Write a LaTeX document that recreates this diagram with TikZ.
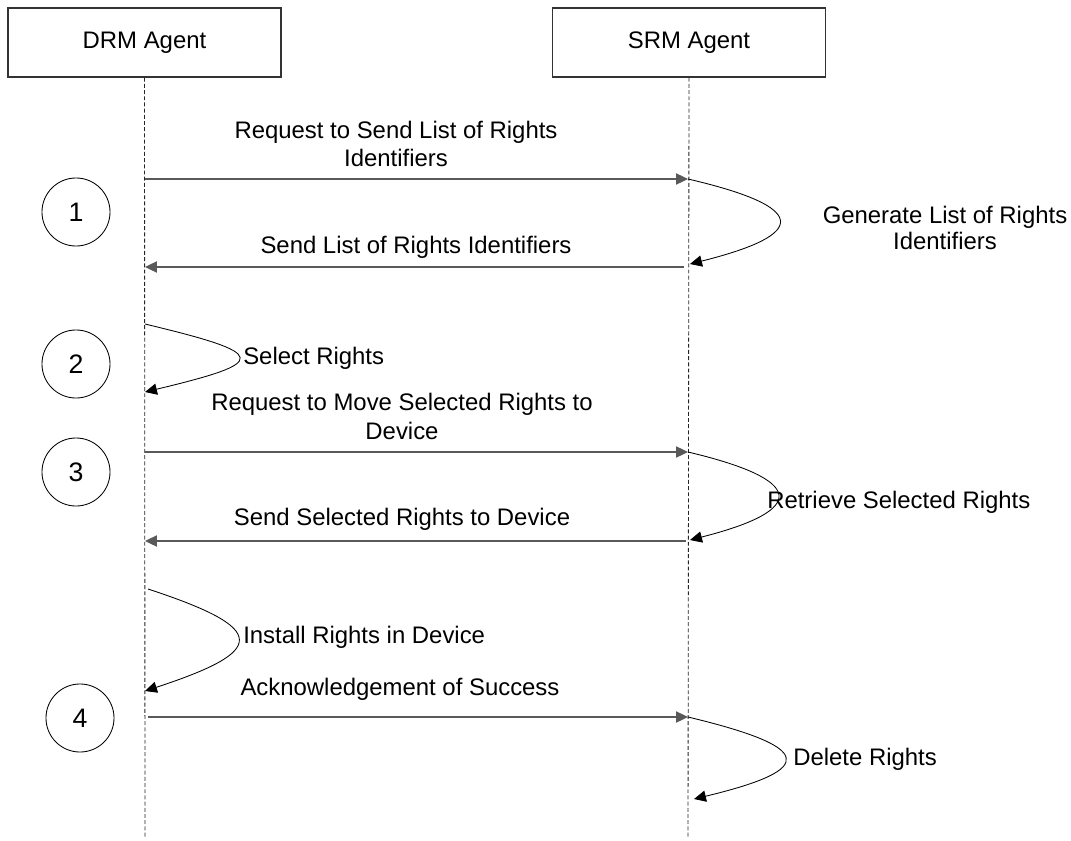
\documentclass[tikz,border=0pt]{standalone}
\usepackage{fontspec}
\setmainfont{Liberation Sans}
\usetikzlibrary{arrows.meta}
\tikzset{
	agent/.style={draw=black!80, line width=1pt, minimum width=6.825cm, minimum height=1.725cm, inner sep=0pt},
	life/.style={draw=black!85, line width=0.6pt, dash pattern=on 2.8pt off 1.6pt},
	msg/.style={draw=black!65, line width=0.9pt, -{Triangle[length=8.5pt,width=8pt]}},
	selfmsg/.style={draw=black, line width=0.6pt, -{Triangle[length=8.5pt,width=8pt]}},
	step num/.style={draw=black, line width=0.6pt, circle, minimum size=1.7cm, inner sep=0pt, font=\fontsize{19}{20}\selectfont},
	lbl/.style={inner sep=0pt, align=center}
}

\begin{document}
\begin{tikzpicture}[x=0.025cm, y=-0.025cm, font=\fontsize{17}{18.5}\selectfont]
		%%%%% START %%%%%
		\useasboundingbox (0, 0) rectangle (1071, 841);
		
		% agents and lifelines
		\node[agent] (drm) at (144.5, 42.5) {DRM Agent};
		\node[agent] (srm) at (689, 42.5) {SRM Agent};
		\coordinate (drmend) at (145, 838);
		\coordinate (srmend) at (688, 838);
		\draw[life] (drm.south) -- (drmend);
		\draw[life] (srm.south) -- (srmend);
		
		% step circles
		\node[step num] (n1) at (76, 212) {1};
		\node[step num] (n2) at (76, 364) {2};
		\node[step num] (n3) at (76, 472) {3};
		\node[step num] (n4) at (80, 718) {4};
		
		% points on the lifelines
		\coordinate (d1) at (145, 179);  \coordinate (s1) at (688, 179);
		\coordinate (s2) at (690, 264);  \coordinate (s2b) at (684, 267);
		\coordinate (d2) at (145, 267);
		\coordinate (d3) at (145, 324);  \coordinate (d4) at (145, 392);
		\coordinate (d5) at (145, 452);  \coordinate (s5) at (688, 452);
		\coordinate (s6) at (690, 540);  \coordinate (s6b) at (686, 541);
		\coordinate (d6) at (145, 541);
		\coordinate (d7) at (148, 589);  \coordinate (d8) at (145, 691);
		\coordinate (d9) at (148, 717);  \coordinate (s9) at (688, 717);
		\coordinate (s10) at (694, 799);
		
		% step 1
		\draw[msg] (d1) -- (s1);
		\node[lbl] (req1a) at (396, 132) {Request to Send List of Rights};
		\node[lbl] (req1b) at (396, 158) {Identifiers};
		\draw[selfmsg] (s1) .. controls +(120, 28) and +(120, -30) .. (s2);
		\node[lbl] (gen) at (945, 228) {Generate List of Rights\\Identifiers};
		\draw[msg] (s2b) -- (d2);
		\node[lbl] (sendlist) at (416, 247) {Send List of Rights Identifiers};
		
		% step 2
		\draw[selfmsg] (d3) .. controls +(125, 30) and +(125, -30) .. (d4);
		\node[lbl, anchor=west] (select) at (243, 358) {Select Rights};
		
		% step 3
		\draw[msg] (d5) -- (s5);
		\node[lbl] (req2a) at (402, 404) {Request to Move Selected Rights to};
		\node[lbl] (req2b) at (402, 431) {Device};
		\draw[selfmsg] (s5) .. controls +(118, 28) and +(118, -30) .. (s6);
		\node[lbl, anchor=west] (retr) at (767, 502) {Retrieve Selected Rights};
		\draw[msg] (s6b) -- (d6);
		\node[lbl] (sendsel) at (402, 519) {Send Selected Rights to Device};
		
		% step 4
		\draw[selfmsg] (d7) .. controls +(122, 40) and +(122, -40) .. (d8);
		\node[lbl, anchor=west] (install) at (243, 637) {Install Rights in Device};
		\draw[msg] (d9) -- (s9);
		\node[lbl] (ack) at (400, 689) {Acknowledgement of Success};
		\draw[selfmsg] (s9) .. controls +(125, 30) and +(125, -30) .. (s10);
		\node[lbl, anchor=west] (del) at (793, 759) {Delete Rights};
		%%%%% END %%%%%
\end{tikzpicture}
\end{document}
